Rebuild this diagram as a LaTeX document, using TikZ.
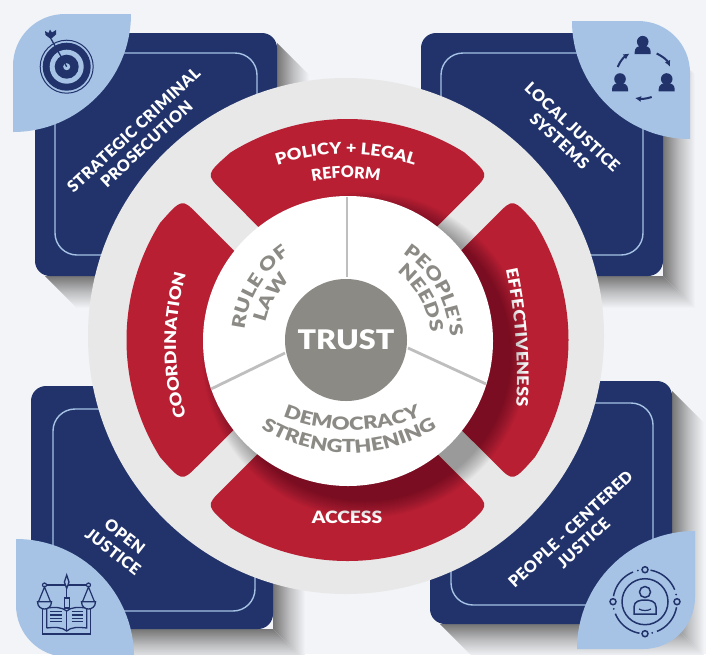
\documentclass[tikz,border=0pt]{standalone}
\usepackage{fontspec}
\setmainfont{Lato}[BoldFont={Lato Black},BoldFeatures={LetterSpace=3}]
\newfontfamily\redface{Lato Black}[FakeStretch=1.13]
\newfontfamily\greyface{Lato Black}[FakeStretch=1.22]
\usetikzlibrary{arrows.meta,decorations.text}

\definecolor{pagebg}{HTML}{F2F4F7}
\definecolor{cardblue}{HTML}{21336A}
\definecolor{leafblue}{HTML}{A6C3E6}
\definecolor{ringgrey}{HTML}{E8E8E8}
\definecolor{segred}{HTML}{B81F33}
\definecolor{trustgrey}{HTML}{8C8A85}
\definecolor{spokegrey}{HTML}{BEBEBE}
\definecolor{castgrey}{HTML}{767676}
\definecolor{castmid}{HTML}{BDBEC0}

\newcommand{\redfont}{\fontsize{16}{18}\redface\color{white}}
\newcommand{\reformfont}{\fontsize{16}{18}\selectfont\bfseries\color{white}}
\newcommand{\greyfont}{\fontsize{18}{20}\greyface\color{trustgrey}}
\newcommand{\curvelabel}[6]{\path[decorate,decoration={text along path,text align=center,text={#6}}] plot[domain=#4:#5,samples=60] ({#1+#3*cos(\x)},{#2+#3*sin(\x)});}

\tikzset{
    cardbox/.style={fill=cardblue,rounded corners=15pt},
    cardline/.style={draw=leafblue,line width=1.4pt,rounded corners=22pt},
    leaf/.style={fill=leafblue},
    iconline/.style={draw=cardblue,line width=1.5pt},
    spoke/.style={spokegrey,line width=2.8pt},
    cardlabel/.style={text=white,font=\fontsize{16}{19}\selectfont\bfseries,align=center},
    redlabel/.style={font=\fontsize{17}{19}\redface\color{white}}
}

\begin{document}
\begin{tikzpicture}[x=1pt,y=-1pt]
    \useasboundingbox (0,0) rectangle (706,654);
    \fill[pagebg] (0,0) rectangle (706,654);

    % Cards with their long shadows
    \foreach \l/\t/\il/\it in {35/33/55/53, 421/33/441/53, 31/386/53/409, 430/381/451/403} {
        \shade[left color=castgrey,right color=pagebg,middle color=castmid] (\l+242,\t+10) -- (\l+274,\t+42) -- (\l+274,\t+275) -- (\l+242,\t+243) -- cycle;
        \shade[top color=castgrey,bottom color=pagebg,middle color=castmid] (\l+10,\t+243) -- (\l+42,\t+275) -- (\l+274,\t+275) -- (\l+242,\t+243) -- cycle;
        \fill[cardbox] (\l,\t) rectangle ++(242,243);
        \draw[cardline] (\il,\it) rectangle ++(202,202);
    }

    % Card labels
    \node[cardlabel,rotate=43] (strategic) at (140,137) {STRATEGIC CRIMINAL\\PROSECUTION};
    \node[cardlabel,rotate=-43] (localjustice) at (566,134) {LOCAL JUSTICE\\SYSTEMS};
    \node[cardlabel,rotate=-38] (openjustice) at (119,544) {OPEN\\JUSTICE};
    \node[cardlabel,rotate=43] (peoplecentered) at (577,536) {PEOPLE - CENTERED\\JUSTICE};

    % Corner leaves
    \foreach \cx/\cy/\sx/\sy in {13/14/1/1, 690/21/-1/1, 16/657/1/-1, 695/649/-1/-1} {
        \begin{scope}[shift={(\cx,\cy)},xscale=\sx,yscale=\sy]
            \fill[leaf] (118,0) -- (52,0) .. controls (23,0) and (0,23) .. (0,52) -- (0,118) .. controls (65,118) and (118,65) .. (118,0) -- cycle;
        \end{scope}
    }

    % Target icon
    \draw[draw=cardblue,line width=1pt] (66.7,66.7) circle (26.5);
    \fill[cardblue] (66.7,66.7) circle (24);
    \fill[leafblue] (66.7,66.7) circle (17);
    \fill[cardblue] (66.7,66.7) circle (12);
    \fill[leafblue] (66.7,66.7) circle (3.5);
    \draw[cardblue,line width=1.3pt] (66.7,66.7) -- (50,37);
    \fill[cardblue] (49.5,38) -- (45.5,35) -- (45,31) -- (48.5,33) -- (50,29.5) -- (52,32.5) -- (56,30) -- (56,34.5) -- (52,38) -- cycle;

    % Circle of people icon
    \foreach \px/\py in {642.7/41.7, 620/79, 666.7/79} {
        \begin{scope}[shift={(\px,\py)}]
            \fill[cardblue] (0,0) circle (5.8);
            \fill[cardblue] (-8,12.3) -- (-8,10) .. controls (-8,5.5) and (-4,4) .. (0,4) .. controls (4,4) and (8,5.5) .. (8,10) -- (8,12.3) -- cycle;
        \end{scope}
    }
    \draw[iconline,line width=2pt,-{Latex[length=6pt,width=6pt]}] (617.7,67) .. controls (620,61) and (624,57) .. (629.5,53.5);
    \draw[iconline,line width=2pt,-{Latex[length=6pt,width=6pt]}] (656.7,53.5) .. controls (662,56) and (667,60) .. (670,66.7);
    \draw[iconline,line width=2pt,-{Latex[length=6pt,width=6pt]}] (651.7,97) .. controls (646,99) and (641,99) .. (635,98);

    % Scales and book icon
    \draw[iconline,line width=1.3pt] (42.7,609) -- (42.7,634) -- (90.7,634) -- (90.7,609);
    \draw[iconline,line width=1.3pt] (46.7,628) -- (46.7,608) .. controls (55,607) and (62,607) .. (66.7,611) .. controls (71,607) and (78,607) .. (86.7,608) -- (86.7,628) .. controls (78,627) and (71,627) .. (66.7,631) .. controls (62,627) and (55,627) .. (46.7,628);
    \draw[iconline,line width=1.3pt] (66.7,611) -- (66.7,631);
    \foreach \ly in {611.7,615,618.3,621.7} {
        \draw[iconline,line width=1.2pt] (50,\ly) -- (61.7,\ly);
        \draw[iconline,line width=1.2pt] (71.7,\ly) -- (83.3,\ly);
    }
    \draw[iconline,line width=1.3pt] (43.5,585) -- (89,585);
    \draw[iconline,line width=1.3pt,fill=leafblue] (64.2,598) rectangle (69.2,608);
    \draw[iconline,line width=1.3pt] (66.7,588) -- (66.7,598);
    \draw[iconline,line width=1.3pt,fill=leafblue] (66.7,575) -- (69,582) -- (66.7,588.5) -- (64.4,582) -- cycle;
    \foreach \bx in {44.5,88.5} {
        \draw[iconline,line width=1.2pt,fill=leafblue] (\bx,585) circle (2);
        \draw[iconline,line width=1.2pt] (\bx-6,601.7) -- (\bx,587) -- (\bx+6,601.7);
        \draw[iconline,line width=1.3pt,fill=leafblue] (\bx-7,601.7) -- (\bx+7,601.7) .. controls (\bx+7,607) and (\bx+3,609) .. (\bx,609) .. controls (\bx-3,609) and (\bx-7,607) .. (\bx-7,601.7) -- cycle;
    }

    % Person in rings icon
    \draw[iconline] (645,601.7) circle (23);
    \foreach \a in {0,90,180,270} {
        \draw[iconline] plot[domain=\a+10:\a+68,samples=12] ({645+32*cos(\x)},{601.7+32*sin(\x)});
        \fill[cardblue] ({645+32*cos(\a+77)},{601.7+32*sin(\a+77)}) circle (1);
        \draw[iconline,fill=leafblue] ({645+32*cos(\a)},{601.7+32*sin(\a)}) circle (3);
    }
    \draw[iconline] (645,592) circle (5.5);
    \draw[iconline] (634,614) -- (634,607) .. controls (634,601) and (640,600) .. (645,600) .. controls (650,600) and (656,601) .. (656,607) -- (656,614) -- cycle;
    \draw[iconline,line width=1.2pt] (639,609) .. controls (642,611) and (648,611) .. (651,609);

    % Grey ring
    \fill[ringgrey] (346,336) circle (258);

    % Red segments
    \begin{scope}[shift={(347.5,340)}]
        \foreach \a in {0,90,180,270} {
            \fill[segred] ({\a+52.5}:130) -- ({\a+49.97}:196) .. controls ({\a+49.47}:218) .. ({\a+58}:221)
                .. controls ({\a+78.93}:236.6) and ({\a+101.07}:236.6) .. ({\a+122}:221)
                .. controls ({\a+130.53}:218) .. ({\a+130.03}:196) -- ({\a+127.5}:130) -- cycle;
        }
    \end{scope}

    % Red segment labels
    \curvelabel{346}{370}{216}{245}{295}{|\redfont|POLICY + LEGAL}
    \curvelabel{346}{353}{175}{250}{290}{|\reformfont|REFORM}
    \curvelabel{-10}{377}{527}{-17.3}{8.7}{|\redfont|EFFECTIVENESS}
    \curvelabel{435}{345}{259}{158}{202}{|\redfont|COORDINATION}
    \node[redlabel] (access) at (347,517) {ACCESS};

    % Shadow of the white disc
    \foreach \r in {146,147,...,163} {
        \fill[black,opacity=0.021] (365,355) circle (\r);
    }

    % White disc, spokes and centre
    \fill[white] (348,341) circle (145);
    \draw[spoke] (347,197) -- (347,277);
    \draw[spoke] (408,348) -- (486,384);
    \draw[spoke] (285,353) -- (211,389);
    \node[circle,fill=trustgrey,minimum size=122pt,inner sep=0pt] (trustdisc) at (346,340) {};
    \node[text=white,font=\fontsize{27}{29}\redface] (trust) at (trustdisc) {TRUST};

    % White disc labels
    \curvelabel{347}{340}{103}{178}{244}{|\greyfont|RULE OF}
    \curvelabel{347}{340}{83}{180}{239}{|\greyfont|LAW}
    \curvelabel{347}{340}{103}{-65}{6}{|\greyfont|PEOPLE'S}
    \curvelabel{347}{340}{84}{-70}{11}{|\greyfont|NEEDS}
    \curvelabel{352}{248}{182}{118}{62}{|\greyfont|DEMOCRACY}
    \curvelabel{349}{286}{167}{132}{48}{|\greyfont|STRENGTHENING}
\end{tikzpicture}
\end{document}
